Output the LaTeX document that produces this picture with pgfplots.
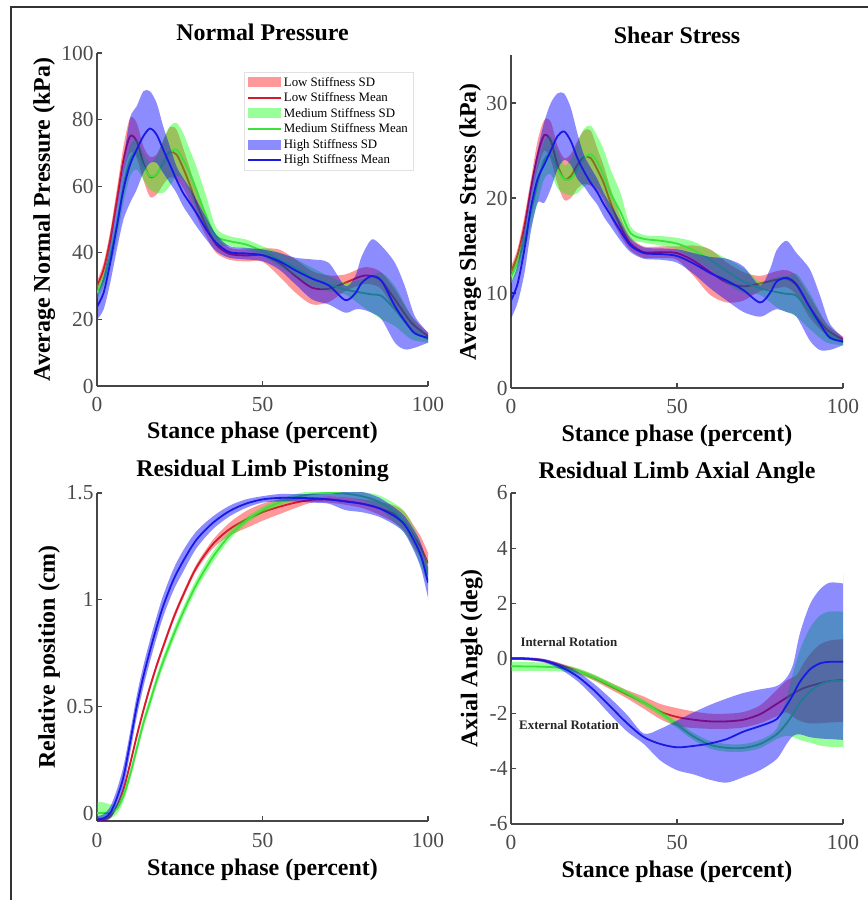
\documentclass[border=0pt]{standalone}
\usepackage{fontspec}
\setmainfont{Liberation Serif}
\usepackage{pgfplots}
\pgfplotsset{compat=1.18}
\usepackage{pgfplotstable}

\definecolor{axgray}{RGB}{70,70,70}
\definecolor{labgray}{RGB}{75,75,75}
\definecolor{mred}{RGB}{215,25,45}
\definecolor{mgreen}{RGB}{60,225,60}
\definecolor{mblue}{RGB}{25,25,230}
\definecolor{leggray}{RGB}{225,225,225}

% ================= Normal pressure: means =================
\pgfplotstableread[row sep=\\]{x y\\0 30\\2 35\\4 44\\6 56\\8 68\\10 75\\12 73.5\\14 67\\16 62.8\\18 63.5\\20 67\\22 70.2\\24 69.5\\26 65.5\\28 60.5\\30 55\\33 48\\36 42.5\\40 39.7\\45 39.2\\50 39.3\\55 37\\60 33\\65 29.5\\70 29.2\\75 31\\80 33\\83 33\\86 31.5\\90 26\\95 19\\100 15\\}\NPrM
\pgfplotstableread[row sep=\\]{x y\\0 28\\2 32\\4 39\\6 48\\8 60\\10 68\\12 70\\14 66\\16 63\\18 63.5\\20 67\\22 70\\24 71\\26 68\\28 64\\30 59\\33 51\\36 45\\40 43.5\\45 42.5\\50 40.5\\55 38\\60 35.5\\65 32.5\\70 30.5\\75 29\\80 28\\83 27.5\\86 27\\90 23\\95 17\\100 14\\}\NPgM
\pgfplotstableread[row sep=\\]{x y\\0 23.8\\2 28\\4 37\\6 48\\8 59\\10 66.5\\12 71\\14 75\\16 77.3\\18 75.5\\20 71\\22 66.5\\24 62\\26 58\\28 55\\30 52\\33 47\\36 43\\40 40.2\\45 39.8\\50 39.3\\55 37.5\\60 34.7\\65 32.2\\70 30.2\\75 25.8\\78 27.8\\80 31\\83 33\\86 31.5\\90 24\\93 19.5\\96 15.8\\100 14.5\\}\NPbM
% bands: upper edge left to right, then lower edge right to left
\pgfplotstableread[row sep=\\]{x y\\0 31.5\\2 37\\4 46.5\\6 59\\8 72\\10 80.5\\12 79\\14 72\\16 68.8\\18 69.5\\20 73.5\\22 77.7\\24 77\\26 71.5\\28 65.5\\30 59\\33 51\\36 45\\40 41.5\\45 41\\50 41.3\\55 41\\60 38\\65 34.5\\70 33.2\\75 33.5\\80 35.5\\83 35.5\\86 34\\90 29\\95 21\\100 16\\100 16\\100 14\\100 14\\95 17\\90 23\\86 29\\83 30.5\\80 30.5\\75 28.5\\70 25.2\\65 24.5\\60 28\\55 33\\50 37.3\\45 37.4\\40 37.9\\36 40\\33 45\\30 51\\28 55.5\\26 59.5\\24 62\\22 62.7\\20 60.5\\18 57.5\\16 56.8\\14 62\\12 68.5\\10 70\\8 64\\6 53\\4 41.5\\2 33\\0 28.5\\}\NPrB
\pgfplotstableread[row sep=\\]{x y\\0 30\\2 34\\4 42\\6 52\\8 64\\10 72\\12 74\\14 70\\16 67\\18 69\\20 74\\22 78\\24 79\\26 76\\28 71\\30 66\\33 57\\36 47.5\\40 45\\45 44\\50 42\\55 40\\60 38\\65 35.5\\70 33\\75 31\\80 32\\83 33\\86 34\\90 30\\95 21\\100 15\\100 15\\100 13\\100 13\\95 14\\90 18\\86 20\\83 22\\80 24\\75 27.5\\70 28.5\\65 30\\60 33\\55 36\\50 39\\45 41\\40 42\\36 42.5\\33 47\\30 53\\28 58\\26 62\\24 63\\22 60\\20 58\\18 58\\16 59\\14 62\\12 65\\10 63\\8 55\\6 44\\4 36\\2 30\\0 26\\}\NPgB
\pgfplotstableread[row sep=\\]{x y\\0 27\\2 33\\4 43\\6 55\\8 68\\10 80.5\\12 84\\14 88.5\\16 88.5\\18 85\\20 78\\22 72\\24 66\\26 62.5\\28 59.5\\30 56\\33 50.5\\36 45.5\\40 42\\45 41.5\\50 41\\55 40\\60 38.5\\65 38\\70 37\\75 30\\78 33\\80 39\\83 44\\86 42\\90 37\\93 30\\96 21\\100 16\\100 16\\100 13\\100 13\\96 11.5\\93 11\\90 13\\86 20\\83 22\\80 23\\78 23\\75 22\\70 24.5\\65 26\\60 30.5\\55 35\\50 37.5\\45 38\\40 38.5\\36 40.5\\33 44\\30 48\\28 51\\26 54\\24 58\\22 61\\20 64\\18 67\\16 67\\14 64\\12 59\\10 55\\8 50\\6 41\\4 31\\2 23\\0 20\\}\NPbB

% ================= Shear stress =================
\pgfplotstableread[row sep=\\]{x y\\0 12.2\\2 14\\4 17\\6 21\\8 24.5\\10 26.6\\12 26\\14 23.5\\16 22\\18 22.3\\20 23.5\\22 24.3\\24 24.2\\26 23\\28 21.5\\30 19.5\\33 17\\36 15.2\\40 14.3\\45 14.3\\50 14.2\\55 13.4\\60 12.2\\65 11.1\\70 10.7\\75 11\\80 11.4\\83 11.5\\86 10.8\\90 8.5\\95 6.2\\100 5.1\\}\SSrM
\pgfplotstableread[row sep=\\]{x y\\0 11.7\\2 13.2\\4 15.5\\6 18.5\\8 21.5\\10 24\\12 24.5\\14 23\\16 22\\18 22\\20 23\\22 24.2\\24 24.6\\26 23.8\\28 22.3\\30 20.5\\33 18.5\\36 16.3\\40 15.7\\45 15.5\\50 15.2\\55 14.5\\60 13.5\\65 12.3\\70 11.2\\75 10.5\\80 10.1\\83 9.9\\86 9.7\\90 8\\95 5.8\\100 4.8\\}\SSgM
\pgfplotstableread[row sep=\\]{x y\\0 9.2\\2 11\\4 14.5\\6 19\\8 22\\10 23.5\\12 25\\14 26.5\\16 27\\18 26\\20 24.2\\22 22.8\\24 21.6\\26 20.6\\28 19.3\\30 18.2\\33 16.5\\36 15\\40 14.2\\45 14.1\\50 13.9\\55 13.1\\60 12.1\\65 11.3\\70 10.3\\75 9\\78 10\\80 11.2\\83 11.6\\86 10.9\\90 8.5\\93 6.8\\96 5.3\\100 4.9\\}\SSbM
\pgfplotstableread[row sep=\\]{x y\\0 12.8\\2 14.7\\4 18\\6 22\\8 26\\10 28.2\\12 28\\14 25.5\\16 24.2\\18 24.6\\20 26\\22 27.1\\24 27.1\\26 25.2\\28 23.3\\30 21\\33 18\\36 15.9\\40 14.9\\45 14.9\\50 14.9\\55 15\\60 14.6\\65 13.2\\70 12.2\\75 11.8\\80 12.3\\83 12.4\\86 11.8\\90 9.6\\95 6.8\\100 5.4\\100 5.4\\100 4.8\\100 4.8\\95 5.6\\90 7.4\\86 9.8\\83 10.6\\80 10.5\\75 10.2\\70 9.2\\65 9\\60 9.8\\55 11.8\\50 13.5\\45 13.7\\40 13.7\\36 14.5\\33 16\\30 18\\28 19.7\\26 20.8\\24 21.3\\22 21.5\\20 21\\18 20\\16 19.8\\14 21.5\\12 24\\10 25\\8 23\\6 20\\4 16\\2 13.3\\0 11.6\\}\SSrB
\pgfplotstableread[row sep=\\]{x y\\0 12.4\\2 14.1\\4 16.6\\6 20\\8 23.5\\10 26\\12 26.5\\14 25\\16 23.5\\18 24\\20 25.8\\22 27.3\\24 27.6\\26 26.5\\28 25\\30 23\\33 20.5\\36 17\\40 16.1\\45 16\\50 15.8\\55 15.4\\60 14.5\\65 13.6\\70 12.6\\75 11.2\\80 11.7\\83 11.8\\86 12\\90 10\\95 6.8\\100 5.1\\100 5.1\\100 4.5\\100 4.5\\95 4.8\\90 6.2\\86 7.5\\83 8\\80 8.5\\75 9.8\\70 10\\65 11\\60 12.5\\55 13.6\\50 14.6\\45 15\\40 15.3\\36 15.6\\33 17\\30 18.5\\28 20\\26 21\\24 21.5\\22 21.2\\20 20.5\\18 20.3\\16 20.5\\14 21\\12 22.5\\10 22\\8 19.5\\6 17\\4 14.4\\2 12.3\\0 11\\}\SSgB
\pgfplotstableread[row sep=\\]{x y\\0 11\\2 13\\4 17\\6 21.5\\8 25\\10 28\\12 30\\14 31\\16 31\\18 29.5\\20 26.8\\22 24.5\\24 23.2\\26 22\\28 20.5\\30 19.3\\33 17.5\\36 15.7\\40 14.8\\45 14.7\\50 14.6\\55 14.2\\60 13.8\\65 13.6\\70 12.8\\75 10.8\\78 12.5\\80 14.5\\83 15.5\\86 14.2\\90 12.5\\93 9.8\\96 6.8\\100 5.3\\100 5.3\\100 4.5\\100 4.5\\96 4\\93 4\\90 5\\86 7.5\\83 8\\80 8.3\\78 8\\75 7.5\\70 8\\65 9.2\\60 10.5\\55 12\\50 13.2\\45 13.5\\40 13.6\\36 14.3\\33 15.5\\30 17\\28 18\\26 19.3\\24 20.2\\22 21.2\\20 22\\18 23.5\\16 24\\14 23\\12 21\\10 19.5\\8 19.5\\6 16.5\\4 12\\2 9\\0 7.3\\}\SSbB

% ================= Pistoning =================
\pgfplotstableread[row sep=\\]{x y\\0 -0.03\\2 -0.03\\4 -0.015\\6 0.03\\8 0.11\\10 0.23\\12 0.36\\14 0.48\\16 0.59\\18 0.69\\20 0.78\\23 0.91\\26 1.02\\30 1.15\\35 1.26\\40 1.33\\45 1.375\\50 1.41\\55 1.435\\60 1.455\\65 1.468\\70 1.47\\75 1.462\\80 1.45\\85 1.43\\90 1.4\\93 1.36\\96 1.29\\98 1.24\\100 1.17\\}\PIrM
\pgfplotstableread[row sep=\\]{x y\\0 0\\2 0\\4 0\\6 0.02\\8 0.08\\10 0.18\\12 0.3\\14 0.42\\16 0.52\\18 0.62\\20 0.71\\23 0.83\\26 0.94\\30 1.07\\35 1.2\\40 1.3\\45 1.37\\50 1.42\\55 1.455\\60 1.48\\65 1.495\\70 1.5\\75 1.497\\80 1.485\\85 1.46\\90 1.41\\93 1.36\\96 1.28\\98 1.2\\100 1.12\\}\PIgM
\pgfplotstableread[row sep=\\]{x y\\0 -0.03\\2 -0.025\\4 0\\6 0.07\\8 0.17\\10 0.33\\12 0.5\\14 0.64\\16 0.76\\18 0.87\\20 0.97\\23 1.09\\26 1.18\\30 1.28\\35 1.36\\40 1.415\\45 1.45\\50 1.47\\55 1.477\\60 1.477\\65 1.475\\70 1.47\\75 1.46\\80 1.45\\85 1.43\\90 1.39\\93 1.35\\96 1.27\\98 1.2\\100 1.08\\}\PIbM
\pgfplotstableread[row sep=\\]{x y\\0 -0.02\\2 -0.02\\4 -0.005\\6 0.04\\8 0.12\\10 0.245\\12 0.375\\14 0.495\\16 0.605\\18 0.705\\20 0.795\\23 0.925\\26 1.035\\30 1.165\\35 1.28\\40 1.36\\45 1.415\\50 1.45\\55 1.47\\60 1.48\\65 1.48\\70 1.485\\75 1.48\\80 1.47\\85 1.46\\90 1.44\\93 1.41\\96 1.34\\98 1.29\\100 1.22\\100 1.22\\100 1.12\\100 1.12\\98 1.19\\96 1.24\\93 1.32\\90 1.36\\85 1.4\\80 1.43\\75 1.445\\70 1.455\\65 1.455\\60 1.43\\55 1.4\\50 1.37\\45 1.335\\40 1.3\\35 1.24\\30 1.135\\26 1.005\\23 0.895\\20 0.765\\18 0.675\\16 0.575\\14 0.465\\12 0.345\\10 0.215\\8 0.1\\6 0.02\\4 -0.025\\2 -0.04\\0 -0.04\\}\PIrB
\pgfplotstableread[row sep=\\]{x y\\0 0.05\\2 0.05\\4 0.04\\6 0.045\\8 0.105\\10 0.205\\12 0.325\\14 0.445\\16 0.545\\18 0.645\\20 0.735\\23 0.855\\26 0.965\\30 1.095\\35 1.225\\40 1.32\\45 1.385\\50 1.435\\55 1.47\\60 1.495\\65 1.51\\70 1.515\\75 1.515\\80 1.505\\85 1.49\\90 1.45\\93 1.41\\96 1.33\\98 1.25\\100 1.17\\100 1.17\\100 1.07\\100 1.07\\98 1.15\\96 1.23\\93 1.31\\90 1.36\\85 1.43\\80 1.465\\75 1.48\\70 1.485\\65 1.48\\60 1.465\\55 1.44\\50 1.405\\45 1.355\\40 1.28\\35 1.175\\30 1.045\\26 0.915\\23 0.805\\20 0.685\\18 0.595\\16 0.495\\14 0.395\\12 0.275\\10 0.155\\8 0.055\\6 -0.005\\4 -0.025\\2 -0.03\\0 -0.03\\}\PIgB
\pgfplotstableread[row sep=\\]{x y\\0 -0.015\\2 -0.005\\4 0.03\\6 0.11\\8 0.22\\10 0.38\\12 0.55\\14 0.69\\16 0.81\\18 0.92\\20 1.02\\23 1.14\\26 1.23\\30 1.32\\35 1.39\\40 1.44\\45 1.47\\50 1.485\\55 1.495\\60 1.495\\65 1.495\\70 1.495\\75 1.505\\80 1.505\\85 1.48\\90 1.43\\93 1.39\\96 1.32\\98 1.26\\100 1.15\\100 1.15\\100 1.01\\100 1.01\\98 1.14\\96 1.22\\93 1.31\\90 1.35\\85 1.39\\80 1.41\\75 1.42\\70 1.45\\65 1.455\\60 1.46\\55 1.46\\50 1.455\\45 1.43\\40 1.39\\35 1.33\\30 1.24\\26 1.13\\23 1.04\\20 0.92\\18 0.82\\16 0.71\\14 0.59\\12 0.45\\10 0.28\\8 0.12\\6 0.03\\4 -0.025\\2 -0.04\\0 -0.045\\}\PIbB

% ================= Axial angle =================
\pgfplotstableread[row sep=\\]{x y\\0 0\\5 -0.01\\10 -0.08\\15 -0.25\\20 -0.45\\25 -0.7\\30 -1.0\\35 -1.3\\40 -1.6\\45 -1.93\\50 -2.12\\55 -2.22\\60 -2.28\\65 -2.28\\70 -2.22\\75 -2.02\\80 -1.65\\83 -1.42\\86 -1.2\\88 -1.08\\90 -1.0\\93 -0.9\\96 -0.82\\100 -0.78\\}\AXrM
\pgfplotstableread[row sep=\\]{x y\\0 -0.28\\5 -0.29\\10 -0.3\\15 -0.34\\20 -0.46\\25 -0.68\\30 -0.97\\35 -1.27\\40 -1.6\\45 -1.97\\50 -2.4\\55 -2.83\\60 -3.13\\65 -3.24\\70 -3.24\\75 -3.1\\80 -2.75\\83 -2.35\\85 -2.0\\87 -1.6\\90 -1.2\\93 -0.95\\96 -0.83\\100 -0.8\\}\AXgM
\pgfplotstableread[row sep=\\]{x y\\0 0\\5 -0.01\\10 -0.08\\15 -0.3\\20 -0.65\\25 -1.15\\30 -1.75\\35 -2.35\\40 -2.85\\45 -3.1\\50 -3.22\\55 -3.17\\60 -3.08\\65 -2.92\\70 -2.65\\75 -2.45\\80 -2.2\\83 -1.7\\85 -1.3\\87 -0.85\\90 -0.4\\93 -0.18\\96 -0.12\\100 -0.12\\}\AXbM
\pgfplotstableread[row sep=\\]{x y\\0 0.05\\5 0.04\\10 -0.02\\15 -0.18\\20 -0.37\\25 -0.6\\30 -0.88\\35 -1.15\\40 -1.38\\45 -1.65\\50 -1.8\\55 -1.92\\60 -2.0\\65 -2.0\\70 -1.94\\75 -1.7\\80 -1.15\\83 -0.8\\86 -0.6\\88 -0.2\\90 0.15\\93 0.5\\96 0.65\\100 0.7\\100 0.7\\100 -2.3\\100 -2.3\\96 -2.32\\93 -2.35\\90 -2.35\\88 -2.3\\86 -2.2\\83 -1.95\\80 -2.1\\75 -2.35\\70 -2.5\\65 -2.55\\60 -2.55\\55 -2.52\\50 -2.45\\45 -2.2\\40 -1.82\\35 -1.45\\30 -1.12\\25 -0.8\\20 -0.53\\15 -0.32\\10 -0.14\\5 -0.06\\0 -0.05\\}\AXrB
\pgfplotstableread[row sep=\\]{x y\\0 -0.12\\5 -0.13\\10 -0.15\\15 -0.21\\20 -0.35\\25 -0.58\\30 -0.87\\35 -1.17\\40 -1.5\\45 -1.86\\50 -2.28\\55 -2.7\\60 -2.99\\65 -3.1\\70 -3.1\\75 -2.95\\80 -2.55\\83 -1.4\\85 -0.5\\87 0.3\\90 1.1\\93 1.55\\96 1.7\\100 1.7\\100 1.7\\100 -3.2\\100 -3.2\\96 -3.2\\93 -3.15\\90 -3.05\\87 -2.95\\85 -2.85\\83 -2.8\\80 -2.92\\75 -3.25\\70 -3.38\\65 -3.38\\60 -3.27\\55 -2.96\\50 -2.52\\45 -2.08\\40 -1.7\\35 -1.37\\30 -1.07\\25 -0.78\\20 -0.57\\15 -0.47\\10 -0.45\\5 -0.45\\0 -0.45\\}\AXgB
\pgfplotstableread[row sep=\\]{x y\\0 0.05\\5 0.04\\10 -0.02\\15 -0.2\\20 -0.48\\25 -0.92\\30 -1.45\\35 -2.05\\40 -2.72\\45 -2.55\\50 -2.25\\55 -1.95\\60 -1.68\\65 -1.45\\70 -1.25\\75 -1.12\\80 -1.0\\83 -0.7\\85 -0.2\\87 0.9\\90 1.95\\93 2.5\\96 2.75\\100 2.72\\100 2.72\\100 -2.95\\100 -2.95\\96 -2.92\\93 -2.9\\90 -2.85\\87 -2.75\\85 -2.8\\83 -3.1\\80 -3.65\\75 -4.05\\70 -4.3\\65 -4.5\\60 -4.4\\55 -4.2\\50 -4.05\\45 -3.7\\40 -3.1\\35 -2.65\\30 -2.05\\25 -1.4\\20 -0.82\\15 -0.4\\10 -0.14\\5 -0.06\\0 -0.05\\}\AXbB

\pgfplotsset{
  panel/.style={
    scale only axis,
    axis x line=bottom, axis y line=left,
    axis line style={-, draw=axgray, line width=1.3bp},
    xmin=0, xmax=100, xtick={0,50,100},
    tick style={draw=axgray, line width=1.1bp},
    tick align=inside,
    major tick length=5bp,
    tick label style={font=\fontsize{21.5}{24}\selectfont, text=labgray},
    xticklabel style={anchor=base, yshift=-26bp},
    /pgf/number format/assume math mode=true,
    label style={font=\bfseries\fontsize{24}{28}\selectfont},
    title style={font=\bfseries\fontsize{24}{28}\selectfont, anchor=base},
    xlabel={Stance phase (percent)},
  },
  bandR/.style={fill=red, fill opacity=0.4, draw=none, smooth,
    legend image code/.code={\fill[##1] (0bp,-5bp) rectangle (33bp,5bp);}},
  bandG/.style={fill=green, fill opacity=0.4, draw=none, smooth,
    legend image code/.code={\fill[##1] (0bp,-5bp) rectangle (33bp,5bp);}},
  bandB/.style={fill=blue, fill opacity=0.45, draw=none, smooth,
    legend image code/.code={\fill[##1] (0bp,-5bp) rectangle (33bp,5bp);}},
  meanR/.style={mred, line width=1.8bp, smooth,
    legend image code/.code={\draw[##1, line width=1.3bp] (0bp,0bp) -- (33bp,0bp);}},
  meanG/.style={mgreen, line width=1.8bp, smooth,
    legend image code/.code={\draw[##1, line width=1.3bp] (0bp,0bp) -- (33bp,0bp);}},
  meanB/.style={mblue, line width=1.8bp, smooth,
    legend image code/.code={\draw[##1, line width=1.3bp] (0bp,0bp) -- (33bp,0bp);}},
}

\begin{document}
\begin{tikzpicture}
\path[use as bounding box] (0bp,0bp) rectangle (868bp,900bp);
\draw[line width=1.5bp, black!80] (11bp,0bp) -- (11bp,893bp) -- (868bp,893bp);

% ---- Normal Pressure
\begin{axis}[panel, at={(97bp,514bp)}, anchor=south west,
  width=331bp, height=333bp,
  ymin=0, ymax=100, ytick={0,20,40,60,80,100},
  title={Normal Pressure},
  title style={at={(axis description cs:0.5,1.021)}},
  ylabel={Average Normal Pressure (kPa)},
  ylabel style={at={(axis description cs:-0.142,0.5)}, anchor=base},
  xlabel style={at={(axis description cs:0.5,-0.159)}, anchor=base},
  legend style={at={(axis description cs:0.955,0.943)}, anchor=north east,
    draw=leggray, fill=white, font=\fontsize{12.9}{14}\selectfont,
    inner sep=3bp, row sep=1bp},
  legend cell align=left,
]
\addplot[bandR] table{\NPrB}; \addlegendentry{Low Stiffness SD}
\addplot[meanR] table{\NPrM}; \addlegendentry{Low Stiffness Mean}
\addplot[bandG] table{\NPgB}; \addlegendentry{Medium Stiffness SD}
\addplot[meanG] table{\NPgM}; \addlegendentry{Medium Stiffness Mean}
\addplot[bandB] table{\NPbB}; \addlegendentry{High Stiffness SD}
\addplot[meanB] table{\NPbM}; \addlegendentry{High Stiffness Mean}
\end{axis}

% ---- Shear Stress
\begin{axis}[panel, at={(511bp,512bp)}, anchor=south west,
  width=332bp, height=332.5bp,
  ymin=0, ymax=35, ytick={0,10,20,30},
  title={Shear Stress},
  title style={at={(axis description cs:0.5,1.0195)}},
  ylabel={Average Shear Stress (kPa)},
  ylabel style={at={(axis description cs:-0.106,0.5)}, anchor=base},
  xlabel style={at={(axis description cs:0.5,-0.162)}, anchor=base},
]
\addplot[bandR] table{\SSrB};
\addplot[meanR] table{\SSrM};
\addplot[bandG] table{\SSgB};
\addplot[meanG] table{\SSgM};
\addplot[bandB] table{\SSbB};
\addplot[meanB] table{\SSbM};
\end{axis}

% ---- Pistoning
\begin{axis}[panel, at={(97bp,79bp)}, anchor=south west,
  width=331bp, height=328bp,
  ymin=-0.0375, ymax=1.5, ytick={0,0.5,1,1.5},
  yticklabels={0,0.5,1,1.5},
  title={Residual Limb Pistoning},
  title style={at={(axis description cs:0.5,1.0335)}},
  ylabel={Relative position (cm)},
  ylabel style={at={(axis description cs:-0.127,0.5)}, anchor=base},
  xlabel style={at={(axis description cs:0.5,-0.165)}, anchor=base},
]
\addplot[bandR] table{\PIrB};
\addplot[meanR] table{\PIrM};
\addplot[bandG] table{\PIgB};
\addplot[meanG] table{\PIgM};
\addplot[bandB] table{\PIbB};
\addplot[meanB] table{\PIbM};
\end{axis}

% ---- Axial Angle
\begin{axis}[panel, at={(511bp,76bp)}, anchor=south west,
  width=332bp, height=331bp,
  ymin=-6, ymax=6, ytick={-6,-4,-2,0,2,4,6},
  title={Residual Limb Axial Angle},
  title style={at={(axis description cs:0.5,1.027)}},
  ylabel={Axial Angle (deg)},
  ylabel style={at={(axis description cs:-0.1015,0.5)}, anchor=base},
  xlabel style={at={(axis description cs:0.5,-0.163)}, anchor=base},
]
\addplot[bandR] table{\AXrB};
\addplot[meanR] table{\AXrM};
\addplot[bandG] table{\AXgB};
\addplot[meanG] table{\AXgM};
\addplot[bandB] table{\AXbB};
\addplot[meanB] table{\AXbM};
\node[anchor=base west, font=\bfseries\fontsize{13}{15}\selectfont, text=black!85]
  at (axis cs:1.8,0.43) {Internal Rotation};
\node[anchor=base west, font=\bfseries\fontsize{13}{15}\selectfont, text=black!85]
  at (axis cs:1.4,-2.59) {External Rotation};
\end{axis}
\end{tikzpicture}
\end{document}
